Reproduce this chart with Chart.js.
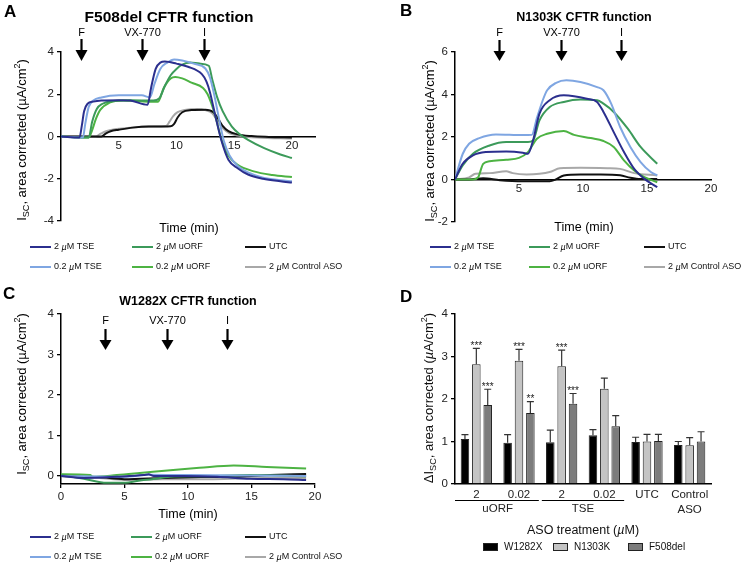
<!DOCTYPE html>
<html lang="en">
<head>
<meta charset="UTF-8">
<title>CFTR function</title>
<script src="https://cdn.jsdelivr.net/npm/chart.js"></script>
<style>
  body { margin: 0; background: #fff; }
  .panel { position: absolute; width: 372px; height: 282px; }
</style>
</head>
<body>
<div class="panel" style="left:0;top:0"><canvas id="chartA" width="372" height="282"></canvas></div>
<div class="panel" style="left:372px;top:0"><canvas id="chartB" width="372" height="282"></canvas></div>
<div class="panel" style="left:0;top:282px"><canvas id="chartC" width="372" height="282"></canvas></div>
<div class="panel" style="left:372px;top:282px"><canvas id="chartD" width="372" height="282"></canvas></div>

<script>
const FONT = "'Liberation Sans', Arial, Helvetica, sans-serif";

// shared series info for the three trace panels
const seriesLabels = ['2 µM TSE', '0.2 µM TSE', '2 µM uORF', '0.2 µM uORF', 'UTC', '2 µM Control ASO'];
const seriesColors = ['#2b2f8e', '#7fa6e2', '#3c9a5a', '#4db343', '#111111', '#a8a8a8'];
const arrowLabels = ['F', 'VX-770', 'I'];

// Panel A - F508del (time in min, Isc in uA/cm2)
const aTse2T = [0, 1.6, 1.8, 2.0, 2.3, 2.8, 3.5, 5.0, 6.0, 7.5, 7.8, 8.2, 8.6, 9.0, 10.0, 11.0, 12.2, 12.6, 12.9, 13.4, 13.9, 14.5, 15.3, 16.2, 17.5, 19.0, 20.0];
const aTse2V = [0, -0.05, 0.5, 1.2, 1.55, 1.65, 1.7, 1.72, 1.7, 1.5, 2.3, 3.2, 3.5, 3.55, 3.45, 3.3, 2.95, 2.6, 2.1, 0.9, -0.2, -1.1, -1.5, -1.8, -2.0, -2.12, -2.18];
const aTse02T = [0, 1.9, 2.1, 2.4, 2.8, 3.5, 5.0, 7.0, 7.7, 8.1, 8.6, 9.2, 9.8, 10.5, 11.5, 12.5, 12.9, 13.3, 13.7, 14.1, 14.6, 15.3, 16.2, 17.5, 19.0, 20.0];
const aTse02V = [0, -0.05, 0.6, 1.4, 1.7, 1.85, 1.95, 1.95, 1.85, 2.5, 3.2, 3.5, 3.65, 3.6, 3.45, 3.22, 2.8, 1.9, 0.8, -0.2, -0.9, -1.4, -1.7, -1.95, -2.07, -2.12];
const aUorf2T = [0, 2.4, 2.7, 3.1, 3.6, 4.5, 6.0, 8.0, 8.5, 9.0, 9.5, 10.0, 10.5, 11.2, 12.0, 12.8, 13.1, 13.5, 14.0, 14.8, 15.5, 16.2, 17.6, 19.0, 20.0];
const aUorf2V = [0, -0.05, 0.7, 1.3, 1.55, 1.68, 1.72, 1.7, 1.8, 2.4, 2.9, 3.2, 3.4, 3.5, 3.45, 3.35, 2.7, 1.9, 1.2, 0.47, 0.1, -0.16, -0.55, -0.85, -1.02];
const aUorf02T = [0, 2.4, 2.7, 3.0, 3.4, 4.2, 5.4, 7.6, 8.4, 8.9, 9.5, 9.9, 10.5, 11.3, 12.3, 12.7, 13.3, 13.9, 14.5, 15.3, 16.7, 18.3, 20.0];
const aUorf02V = [0, -0.05, 0.3, 0.8, 1.26, 1.6, 1.7, 1.65, 1.65, 2.3, 2.75, 2.82, 2.75, 2.55, 2.3, 2.0, 1.1, -0.15, -0.9, -1.34, -1.65, -1.82, -1.92];
const aUtcT = [0, 3.5, 3.9, 4.3, 5.0, 6.2, 7.6, 9.5, 9.8, 10.1, 10.5, 11.3, 12.5, 13.2, 13.6, 14.0, 14.5, 15.3, 16.5, 18.0, 20.0];
const aUtcV = [0, 0, 0.15, 0.25, 0.32, 0.42, 0.47, 0.49, 0.6, 0.9, 1.15, 1.25, 1.27, 1.15, 0.85, 0.5, 0.25, 0.1, 0.02, -0.02, -0.05];
const aCtrlT = [0, 3.0, 3.4, 3.9, 4.8, 6.0, 8.0, 9.1, 9.4, 9.7, 10.1, 10.7, 11.8, 12.5, 13.1, 13.6, 14.1, 14.6, 15.3, 17.0, 20.0];
const aCtrlV = [0, 0, 0.12, 0.25, 0.35, 0.42, 0.47, 0.5, 0.7, 0.95, 1.15, 1.25, 1.3, 1.25, 1.1, 0.7, 0.35, 0.15, 0.05, -0.05, -0.1];
const aArrowT = [1.7, 7.05, 12.35];
const aXTicks = [5, 10, 15, 20];
const aYTicks = [-4, -2, 0, 2, 4];

// Panel B - N1303K
const bTse2T = [0, 0.6, 1.4, 2.4, 4.0, 5.3, 5.7, 6.1, 6.6, 7.4, 8.5, 9.3, 10.3, 11.1, 11.6, 12.4, 13.2, 14.0, 14.8, 15.8];
const bTse2V = [0, 0.74, 1.13, 1.29, 1.32, 1.26, 1.21, 1.84, 3.1, 3.73, 3.96, 3.92, 3.8, 3.65, 3.18, 2.23, 1.29, 0.5, 0.03, -0.36];
const bTse02T = [0, 0.6, 1.1, 1.9, 3.2, 5.3, 6.0, 6.4, 6.9, 7.2, 7.9, 8.7, 9.8, 11.1, 11.6, 12.2, 12.9, 13.7, 14.5, 15.3, 15.8];
const bTse02V = [0, 1.2, 1.68, 1.95, 2.12, 2.09, 2.1, 2.9, 3.8, 4.2, 4.55, 4.67, 4.59, 4.35, 4.2, 3.57, 2.47, 1.53, 0.82, 0.35, 0.19];
const bUorf2T = [0, 0.6, 1.4, 2.7, 4.0, 5.7, 6.1, 6.6, 7.4, 8.5, 9.8, 11.1, 11.6, 12.4, 13.5, 14.5, 15.8];
const bUorf2V = [0, 0.66, 1.21, 1.6, 1.76, 1.76, 1.84, 2.78, 3.41, 3.65, 3.76, 3.73, 3.57, 3.18, 2.39, 1.53, 0.74];
const bUorf02T = [0, 1.4, 1.8, 2.2, 2.7, 4.0, 5.0, 5.7, 6.4, 7.2, 8.5, 9.3, 10.6, 11.6, 12.4, 13.2, 14.0, 14.8, 15.8];
const bUorf02V = [0, 0, 0.1, 0.74, 0.86, 0.93, 1.02, 1.29, 1.92, 2.15, 2.28, 2.1, 1.95, 1.81, 1.53, 0.9, 0.42, 0.11, -0.13];
const bUtcT = [0, 1.1, 2.2, 3.5, 5.3, 7.4, 7.8, 8.5, 9.8, 11.4, 12.9, 13.7, 14.5, 15.8];
const bUtcV = [0, 0, 0.06, -0.03, -0.08, -0.08, -0.02, 0.19, 0.24, 0.24, 0.2, 0.08, 0.02, 0.02];
const bCtrlT = [0, 1.1, 1.6, 2.7, 4.0, 4.5, 5.6, 6.6, 7.4, 8.2, 9.8, 11.9, 12.9, 14.0, 15.8];
const bCtrlV = [0, 0.1, 0.27, 0.3, 0.39, 0.3, 0.24, 0.27, 0.35, 0.53, 0.55, 0.53, 0.5, 0.3, 0.19];
const bArrowT = [3.41, 8.26, 13.0];
const bXTicks = [5, 10, 15, 20];
const bYTicks = [-2, 0, 2, 4, 6];

// Panel C - W1282X
const cTse2T = [0, 1.8, 4.4, 6.5, 6.9, 7.3, 9.6, 12.3, 14.9, 17.5, 19.3];
const cTse2V = [0, -0.05, -0.02, 0.02, 0.04, 0, 0, -0.02, -0.07, -0.08, -0.1];
const cTse02T = [0, 5, 7, 10, 14, 19.3];
const cTse02V = [0, -0.02, 0.03, 0.02, 0.01, 0];
const cUorf2T = [0, 1.8, 3.6, 4.9, 6.5, 7.0, 8.6, 10.9, 14.9, 19.3];
const cUorf2V = [0.02, -0.07, -0.17, -0.17, -0.1, -0.09, -0.02, -0.01, 0.02, -0.01];
const cUorf02T = [0, 2.3, 2.5, 4.4, 6.2, 8.6, 10.9, 13.6, 16.2, 19.3];
const cUorf02V = [0.04, 0.02, -0.02, 0.02, 0.07, 0.14, 0.2, 0.26, 0.22, 0.18];
const cUtcT = [0, 3, 5, 8, 11, 14, 16.5, 19.3];
const cUtcV = [0, -0.03, -0.08, -0.05, -0.03, -0.02, 0.02, 0.05];
const cCtrlT = [0, 3, 5, 8, 12, 16, 19.3];
const cCtrlV = [0, -0.05, -0.1, -0.08, -0.08, -0.05, -0.05];
const cArrowT = [3.46, 8.32, 13.1];
const cXTicks = [0, 5, 10, 15, 20];
const cYTicks = [0, 1, 2, 3, 4];

// Panel D - delta Isc bars (mean and SEM)
const dCategories = ['2', '0.02', '2', '0.02', 'UTC', ['Control', 'ASO']];
const dGroups = ['uORF', 'TSE'];
const dSeries = ['W1282X', 'N1303K', 'F508del'];
const dW1282X = [1.06, 0.97, 0.98, 1.15, 0.99, 0.92];
const dN1303K = [2.82, 2.90, 2.77, 2.24, 1.00, 0.91];
const dF508del = [1.86, 1.67, 1.89, 1.36, 1.01, 1.00];
const dW1282XSem = [0.10, 0.19, 0.29, 0.13, 0.11, 0.08];
const dN1303KSem = [0.37, 0.27, 0.38, 0.25, 0.17, 0.18];
const dF508delSem = [0.37, 0.27, 0.24, 0.25, 0.16, 0.23];
const dW1282XStars = ['', '', '', '', '', ''];
const dN1303KStars = ['***', '***', '***', '', '', ''];
const dF508delStars = ['***', '**', '***', '', '', ''];
const dYTicks = [0, 1, 2, 3, 4];
const dColors = ['#000000', '#c4c4c4', '#7c7c7c'];

Chart.defaults.font.family = FONT;
Chart.defaults.color = '#222';
Chart.defaults.animation = false;

function toXY(ts, vs) { return ts.map((t, i) => ({ x: t, y: vs[i] })); }

function fixedTicks(list) {
    return scale => { scale.ticks = list.map(v => ({ value: v })); };
}

// text made of pieces: ['text', ''|'it'|'sub'|'sup']
function drawRich(ctx, parts, x, y, size, align) {
    const fontFor = st => (st === 'it' ? 'italic ' : '') + ((st === 'sub' || st === 'sup') ? size * 0.7 : size) + 'px ' + FONT;
    let total = 0;
    parts.forEach(p => { ctx.font = fontFor(p[1]); total += ctx.measureText(p[0]).width; });
    let cx = align === 'center' ? x - total / 2 : x;
    ctx.textAlign = 'left';
    ctx.textBaseline = 'middle';
    parts.forEach(p => {
        ctx.font = fontFor(p[1]);
        const dy = p[1] === 'sub' ? size * 0.32 : (p[1] === 'sup' ? -size * 0.38 : 0);
        ctx.fillText(p[0], cx, y + dy);
        cx += ctx.measureText(p[0]).width;
    });
}

function muParts(label) {
    const out = [];
    label.split('µ').forEach((b, i) => {
        if (i) out.push(['µ', 'it']);
        if (b) out.push([b, '']);
    });
    return out;
}

function yTitle(ctx, parts, x, y) {
    ctx.save();
    ctx.translate(x, y);
    ctx.rotate(-Math.PI / 2);
    drawRich(ctx, parts, 0, 0, 13, 'center');
    ctx.restore();
}

const iscTitle = [['I', ''], ['SC', 'sub'], [', area corrected (µA/cm', ''], ['2', 'sup'], [')', '']];
const deltaTitle = [['ΔI', ''], ['SC', 'sub'], [', area corrected (', ''], ['µ', 'it'], ['A/cm', ''], ['2', 'sup'], [')', '']];

function letter(ctx, ch, x, y) {
    ctx.font = 'bold 17px ' + FONT;
    ctx.textAlign = 'left';
    ctx.textBaseline = 'alphabetic';
    ctx.fillText(ch, x, y);
}

function traceDecor(o) {
    return {
        id: 'decor',
        afterDraw(chart) {
            const ctx = chart.ctx;
            const xs = chart.scales.x;
            ctx.save();
            ctx.fillStyle = '#000';
            ctx.strokeStyle = '#000';
            letter(ctx, o.letter, o.letterPos[0], o.letterPos[1]);

            ctx.font = 'bold ' + o.titleSize + 'px ' + FONT;
            ctx.textAlign = 'center';
            ctx.textBaseline = 'middle';
            ctx.fillText(o.title, o.titlePos[0], o.titlePos[1]);

            // treatment arrows
            const [labY, shaftTop, headTop, tip] = o.arrowY;
            o.arrowT.forEach((t, i) => {
                const px = Math.round(xs.getPixelForValue(t)) + 0.5;
                ctx.font = '11px ' + FONT;
                ctx.textAlign = 'center';
                ctx.textBaseline = 'middle';
                ctx.fillText(arrowLabels[i], px, labY);
                ctx.lineWidth = 2.2;
                ctx.beginPath();
                ctx.moveTo(px, shaftTop);
                ctx.lineTo(px, headTop + 1);
                ctx.stroke();
                ctx.beginPath();
                ctx.moveTo(px - 6, headTop);
                ctx.lineTo(px + 6, headTop);
                ctx.lineTo(px, tip);
                ctx.closePath();
                ctx.fill();
            });

            drawRich(ctx, [['Time (min)', '']], o.xTitlePos[0], o.xTitlePos[1], 12.5, 'center');
            yTitle(ctx, iscTitle, o.yTitlePos[0], o.yTitlePos[1]);

            // legend: 3 columns x 2 rows
            chart.data.datasets.forEach((ds, i) => {
                const lx = o.legendX[Math.floor(i / 2)];
                const ly = o.legendY[i % 2];
                ctx.strokeStyle = ds.borderColor;
                ctx.lineWidth = 2;
                ctx.beginPath();
                ctx.moveTo(lx, ly);
                ctx.lineTo(lx + 21, ly);
                ctx.stroke();
                ctx.fillStyle = '#111';
                drawRich(ctx, muParts(ds.label), lx + 24, ly, 9, 'left');
            });
            ctx.restore();
        }
    };
}

function traceDatasets(series) {
    return series.map((s, i) => ({
        label: seriesLabels[i],
        data: toXY(s[0], s[1]),
        borderColor: seriesColors[i],
        backgroundColor: seriesColors[i],
        borderWidth: 2,
        pointRadius: 0,
        cubicInterpolationMode: 'monotone',
        fill: false
    }));
}

function yScale(min, max, ticks, width) {
    return {
        min: min, max: max,
        afterBuildTicks: fixedTicks(ticks),
        afterFit: s => { s.width = width; },
        grid: { drawOnChartArea: false, tickLength: 4, color: '#000', lineWidth: 1.3 },
        border: { color: '#000', width: 1.5 },
        ticks: { font: { size: 11.5 }, color: '#222', padding: 3 }
    };
}

function traceChart(id, series, o, scales, padding) {
    return new Chart(document.getElementById(id), {
        type: 'line',
        data: { datasets: traceDatasets(series) },
        options: {
            responsive: false,
            animation: false,
            layout: { padding: padding },
            plugins: { legend: { display: false }, tooltip: { enabled: false } },
            scales: scales
        },
        plugins: [traceDecor(o)]
    });
}

// A
traceChart('chartA',
    [[aTse2T, aTse2V], [aTse02T, aTse02V], [aUorf2T, aUorf2V], [aUorf02T, aUorf02V], [aUtcT, aUtcV], [aCtrlT, aCtrlV]],
    { letter: 'A', letterPos: [4, 17], title: 'F508del CFTR function', titleSize: 15.5, titlePos: [169, 18],
      arrowT: aArrowT, arrowY: [33, 39, 50, 61], xTitlePos: [189, 229], yTitlePos: [22, 140],
      legendX: [30, 132, 245], legendY: [247, 267] },
    {
        x: { type: 'linear', min: 0, max: 22, position: { y: 0 },
             afterBuildTicks: fixedTicks(aXTicks),
             grid: { drawOnChartArea: false, drawTicks: false },
             border: { color: '#000', width: 1.5 },
             ticks: { font: { size: 11.5 }, color: '#222', padding: 2 } },
        y: yScale(-4, 4, aYTicks, 61)
    },
    { left: 0, top: 52, right: 57, bottom: 61 });

// B
traceChart('chartB',
    [[bTse2T, bTse2V], [bTse02T, bTse02V], [bUorf2T, bUorf2V], [bUorf02T, bUorf02V], [bUtcT, bUtcV], [bCtrlT, bCtrlV]],
    { letter: 'B', letterPos: [28, 16], title: 'N1303K CFTR function', titleSize: 12.5, titlePos: [212, 18],
      arrowT: bArrowT, arrowY: [33, 40, 51, 61], xTitlePos: [212, 228], yTitlePos: [58, 141],
      legendX: [58, 157, 272], legendY: [247, 267] },
    {
        x: { type: 'linear', min: 0, max: 20, position: { y: 0 },
             afterBuildTicks: fixedTicks(bXTicks),
             grid: { drawOnChartArea: false, drawTicks: false },
             border: { color: '#000', width: 1.5 },
             ticks: { font: { size: 11.5 }, color: '#222', padding: 2 } },
        y: yScale(-2, 6, bYTicks, 83)
    },
    { left: 0, top: 52, right: 33, bottom: 60 });

// C
traceChart('chartC',
    [[cTse2T, cTse2V], [cTse02T, cTse02V], [cUorf2T, cUorf2V], [cUorf02T, cUorf02V], [cUtcT, cUtcV], [cCtrlT, cCtrlV]],
    { letter: 'C', letterPos: [3, 17], title: 'W1282X CFTR function', titleSize: 12.5, titlePos: [188, 20],
      arrowT: cArrowT, arrowY: [39, 47, 58, 68], xTitlePos: [188, 233], yTitlePos: [22, 112],
      legendX: [30, 131, 245], legendY: [255, 275] },
    {
        x: { type: 'linear', min: 0, max: 20, position: 'bottom',
             afterBuildTicks: fixedTicks(cXTicks),
             afterFit: s => { s.height = 80; },
             grid: { drawOnChartArea: false, tickLength: 4, color: '#000', lineWidth: 1.3 },
             border: { color: '#000', width: 1.5 },
             ticks: { font: { size: 11.5 }, color: '#222', padding: 2 } },
        y: yScale(-0.2, 4, cYTicks, 61)
    },
    { left: 0, top: 32, right: 57, bottom: 0 });

// D
const dValues = [dW1282X, dN1303K, dF508del];
const dSems = [dW1282XSem, dN1303KSem, dF508delSem];
const dStars = [dW1282XStars, dN1303KStars, dF508delStars];

const barDecor = {
    id: 'barDecor',
    afterDatasetsDraw(chart) {
        const ctx = chart.ctx;
        const ys = chart.scales.y;
        ctx.save();
        ctx.strokeStyle = '#333';
        ctx.fillStyle = '#222';
        ctx.lineWidth = 1.2;
        dValues.forEach((vals, i) => {
            chart.getDatasetMeta(i).data.forEach((bar, j) => {
                const top = ys.getPixelForValue(vals[j] + dSems[i][j]);
                ctx.beginPath();
                ctx.moveTo(bar.x, bar.y);
                ctx.lineTo(bar.x, top);
                ctx.moveTo(bar.x - 3.5, top);
                ctx.lineTo(bar.x + 3.5, top);
                ctx.stroke();
                if (dStars[i][j]) {
                    ctx.font = '10px ' + FONT;
                    ctx.textAlign = 'center';
                    ctx.textBaseline = 'alphabetic';
                    ctx.fillText(dStars[i][j], bar.x, top + 0.5);
                }
            });
        });
        ctx.restore();
    },
    afterDraw(chart) {
        const ctx = chart.ctx;
        const xs = chart.scales.x;
        const area = chart.chartArea;
        ctx.save();
        ctx.fillStyle = '#000';
        letter(ctx, 'D', 28, 20);

        // treatment group brackets under the ticks
        const half = (xs.getPixelForValue(1) - xs.getPixelForValue(0)) / 2;
        ctx.strokeStyle = '#000';
        ctx.lineWidth = 1;
        dGroups.forEach((g, k) => {
            const c0 = xs.getPixelForValue(2 * k), c1 = xs.getPixelForValue(2 * k + 1);
            const x0 = k === 0 ? area.left : c0 - half + 1.5;
            const x1 = c1 + half - 1.5;
            ctx.beginPath();
            ctx.moveTo(x0, 218.5);
            ctx.lineTo(x1, 218.5);
            ctx.stroke();
            ctx.fillStyle = '#222';
            ctx.font = '11.5px ' + FONT;
            ctx.textAlign = 'center';
            ctx.textBaseline = 'middle';
            ctx.fillText(g, (c0 + c1) / 2, 227);
        });

        ctx.fillStyle = '#111';
        drawRich(ctx, [['ASO treatment (', ''], ['µ', 'it'], ['M)', '']], 211, 249, 12.5, 'center');
        yTitle(ctx, deltaTitle, 57, 116);

        // legend
        const sqX = [111, 181, 256];
        dSeries.forEach((s, i) => {
            ctx.fillStyle = dColors[i];
            ctx.fillRect(sqX[i], 261, 15, 8);
            ctx.strokeStyle = '#222';
            ctx.lineWidth = 1;
            ctx.strokeRect(sqX[i] + 0.5, 261.5, 14, 7);
            ctx.fillStyle = '#111';
            drawRich(ctx, [[s, '']], sqX[i] + 21, 265, 10, 'left');
        });
        ctx.restore();
    }
};

new Chart(document.getElementById('chartD'), {
    type: 'bar',
    data: {
        labels: dCategories,
        datasets: dSeries.map((s, i) => ({
            label: s,
            data: dValues[i],
            backgroundColor: dColors[i],
            borderColor: '#222',
            borderWidth: 1,
            categoryPercentage: 0.8,
            barPercentage: 0.75
        }))
    },
    options: {
        responsive: false,
        animation: false,
        layout: { padding: { left: 0, top: 32, right: 33, bottom: 0 } },
        plugins: { legend: { display: false }, tooltip: { enabled: false } },
        scales: {
            x: { afterFit: s => { s.height = 80; },
                 grid: { drawOnChartArea: false, drawTicks: false },
                 border: { color: '#000', width: 1.5 },
                 ticks: { font: { size: 11.5, lineHeight: 1.3 }, color: '#222', padding: 3, maxRotation: 0, autoSkip: false } },
            y: yScale(0, 4, dYTicks, 83)
        }
    },
    plugins: [barDecor]
});
</script>
</body>
</html>
